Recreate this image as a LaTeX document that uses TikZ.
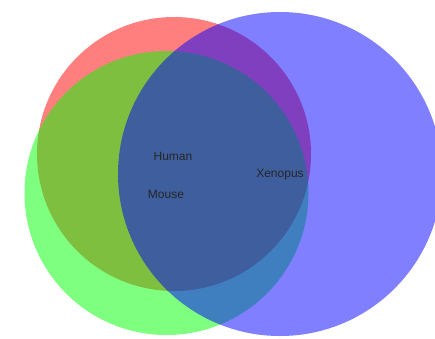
\documentclass[tikz,border=0pt]{standalone}
\usepackage{fontspec}
\setmainfont{Liberation Sans}
\begin{document}
\begin{tikzpicture}[x=1pt,y=-1pt,
    setfill/.style={fill opacity=0.5},
    setlabel/.style={font=\fontsize{12}{14}\selectfont, text=black!85}]
      \useasboundingbox (0,0) rectangle (435,338);
      \begin{scope}[setfill]
        \fill[red] (174,154) circle (137);
        \fill[green] (166.5,193) circle (142);
        \fill[blue] (280,174) circle (162);
      \end{scope}
      \draw
        (173,156) node[setlabel] (human){Human}
        (166,194) node[setlabel] (mouse){Mouse}
        (280,175) node[setlabel] (xenopus){Xenopus};
    \end{tikzpicture}
\end{document}
